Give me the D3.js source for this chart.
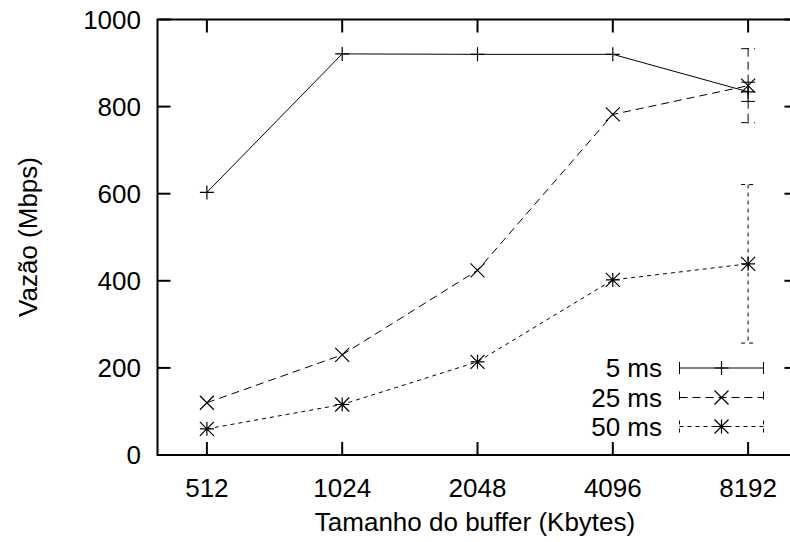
<!DOCTYPE html>
<html>
<head>
<meta charset="utf-8">
<script src="https://cdn.jsdelivr.net/npm/d3@7/dist/d3.min.js"></script>
<style>
  html, body { margin: 0; padding: 0; background: #fff; }
  svg { display: block; }
  text { font-family: "Liberation Sans", Arial, Helvetica, sans-serif; fill: #000; }
</style>
</head>
<body>
<svg id="chart" width="790" height="542"></svg>
<script>
// Buffer sizes (Kbytes) on the x axis
const bufferSizes = [512, 1024, 2048, 4096, 8192];
const yTicks = [0, 200, 400, 600, 800, 1000];

// Throughput (Mbps) per RTT
const series5ms  = [603, 921, 920, 920, 834];
const series25ms = [120, 230, 424, 782, 848];
const series50ms = [60, 116, 214, 402, 439];

// Error bars (± Mbps), only the largest buffer has them
const err5ms  = [0, 0, 0, 0, 22];
const err25ms = [0, 0, 0, 0, 85];
const err50ms = [0, 0, 0, 0, 182];

const seriesNames = ["5 ms", "25 ms", "50 ms"];

const svg = d3.select("#chart");
const plotLeft = 157.5, plotRight = 797.5, plotTop = 19.5, plotBottom = 455;

const pad = Math.pow(2, 0.365);
const x = d3.scaleLog().base(2)
  .domain([bufferSizes[0] / pad, bufferSizes[bufferSizes.length - 1] * pad])
  .range([plotLeft, plotRight]);
const y = d3.scaleLinear().domain([0, 1000]).range([plotBottom, plotTop]);

const styles = [
  { dash: null,  marker: "plus" },
  { dash: "8,5", marker: "cross" },
  { dash: "4,4", marker: "star" }
];

// Axes (gnuplot-style: ticks inward, mirrored)
const tickLen = 13;
const axes = svg.append("g").attr("stroke", "#000").attr("stroke-width", 2).attr("fill", "none");
bufferSizes.forEach(v => {
  axes.append("line").attr("x1", x(v)).attr("x2", x(v)).attr("y1", plotBottom).attr("y2", plotBottom - tickLen);
  axes.append("line").attr("x1", x(v)).attr("x2", x(v)).attr("y1", plotTop).attr("y2", plotTop + tickLen);
});
yTicks.forEach(v => {
  axes.append("line").attr("x1", plotLeft).attr("x2", plotLeft + tickLen).attr("y1", y(v)).attr("y2", y(v));
  axes.append("line").attr("x1", plotRight).attr("x2", plotRight - tickLen).attr("y1", y(v)).attr("y2", y(v));
});
axes.append("rect").attr("x", plotLeft).attr("y", plotTop)
  .attr("width", plotRight - plotLeft).attr("height", plotBottom - plotTop);

svg.append("g").selectAll("text").data(yTicks).join("text")
  .attr("x", 141).attr("y", d => y(d)).attr("dy", "0.36em")
  .attr("text-anchor", "end").attr("font-size", 26).text(d => d);

svg.append("g").selectAll("text").data(bufferSizes).join("text")
  .attr("x", d => x(d)).attr("y", 497)
  .attr("text-anchor", "middle").attr("font-size", 26).text(d => d);

svg.append("text").attr("x", 475).attr("y", 531).attr("text-anchor", "middle")
  .attr("font-size", 26).text("Tamanho do buffer (Kbytes)");
svg.append("text").attr("transform", "translate(37,237) rotate(-90)")
  .attr("text-anchor", "middle").attr("font-size", 26).text("Vazão (Mbps)");

function drawMarker(g, type, cx, cy) {
  const s = 7;
  const p = d3.path();
  if (type === "plus" || type === "star") {
    p.moveTo(cx - s, cy); p.lineTo(cx + s, cy);
    p.moveTo(cx, cy - s); p.lineTo(cx, cy + s);
  }
  if (type === "cross" || type === "star") {
    p.moveTo(cx - s, cy - s); p.lineTo(cx + s, cy + s);
    p.moveTo(cx - s, cy + s); p.lineTo(cx + s, cy - s);
  }
  g.append("path").attr("d", p.toString()).attr("stroke", "#000").attr("stroke-width", 1.2).attr("fill", "none");
}

const allSeries = [series5ms, series25ms, series50ms];
const allErr = [err5ms, err25ms, err50ms];
const line = d3.line().x(d => x(d[0])).y(d => y(d[1]));

allSeries.forEach((vals, i) => {
  const st = styles[i];
  const g = svg.append("g");
  const pts = bufferSizes.map((b, j) => [b, vals[j]]);
  g.append("path").datum(pts).attr("d", line)
    .attr("fill", "none").attr("stroke", "#000").attr("stroke-width", 1)
    .attr("stroke-dasharray", st.dash);
  // error bars
  pts.forEach((p, j) => {
    const e = allErr[i][j];
    if (!e) return;
    const cx = x(p[0]);
    const y1 = y(p[1] + e), y2 = y(p[1] - e);
    const eb = d3.path();
    eb.moveTo(cx, y1); eb.lineTo(cx, y2);
    eb.moveTo(cx - 7, y1); eb.lineTo(cx + 7, y1);
    eb.moveTo(cx - 7, y2); eb.lineTo(cx + 7, y2);
    g.append("path").attr("d", eb.toString()).attr("fill", "none")
      .attr("stroke", "#000").attr("stroke-width", 1).attr("stroke-dasharray", st.dash);
  });
  pts.forEach(p => drawMarker(g, st.marker, x(p[0]), y(p[1])));
});

// Legend
const legY = [368, 397.5, 426.5];
const lx1 = 679.5, lx2 = 763.5, lmid = 721.5;
seriesNames.forEach((name, i) => {
  const st = styles[i];
  const g = svg.append("g");
  g.append("text").attr("x", 662).attr("y", legY[i]).attr("dy", "0.36em")
    .attr("text-anchor", "end").attr("font-size", 26).text(name);
  const lp = d3.path();
  lp.moveTo(lx1, legY[i]); lp.lineTo(lx2, legY[i]);
  lp.moveTo(lx1, legY[i] - 6); lp.lineTo(lx1, legY[i] + 6);
  lp.moveTo(lx2, legY[i] - 6); lp.lineTo(lx2, legY[i] + 6);
  g.append("path").attr("d", lp.toString()).attr("fill", "none")
    .attr("stroke", "#000").attr("stroke-width", 1).attr("stroke-dasharray", st.dash);
  drawMarker(g, st.marker, lmid, legY[i]);
});
</script>
</body>
</html>
